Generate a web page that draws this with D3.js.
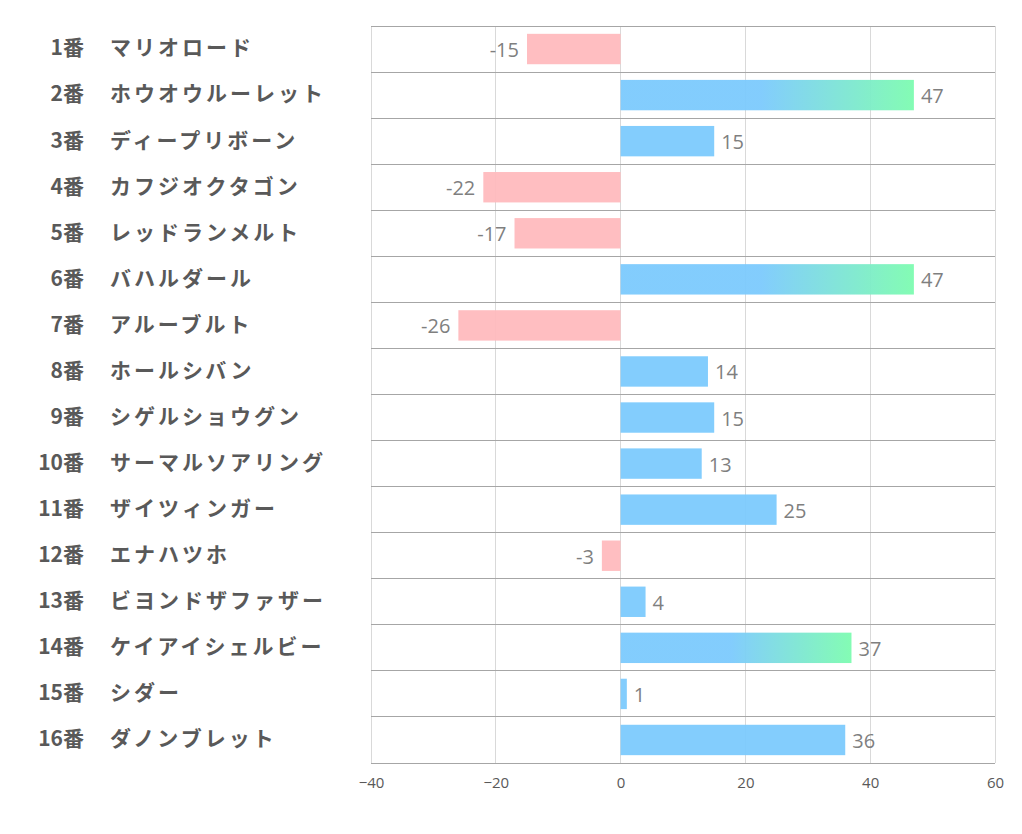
<!DOCTYPE html>
<html><head><meta charset="utf-8">
<script src="https://cdn.jsdelivr.net/npm/d3@7"></script>
<style>body{margin:0;background:#fff}</style>
</head><body><svg id="c" width="1022" height="834"></svg>
<script>
const numbers = ["1番","2番","3番","4番","5番","6番","7番","8番","9番","10番","11番","12番","13番","14番","15番","16番"];
const names = ["マリオロード","ホウオウルーレット","ディープリボーン","カフジオクタゴン","レッドランメルト","バハルダール","アルーブルト","ホールシバン","シゲルショウグン","サーマルソアリング","ザイツィンガー","エナハツホ","ビヨンドザファザー","ケイアイシェルビー","シダー","ダノンブレット"];
const values = [-15,47,15,-22,-17,47,-26,14,15,13,25,-3,4,37,1,36];
const highlighted = [false,true,false,false,false,true,false,false,false,false,false,false,false,true,false,false];
const xTicks = [-40,-20,0,20,40,60];

const svg = d3.select("#c");
const L = 371, R = 995, T = 26, B = 763;
const x = d3.scaleLinear().domain([-40,60]).range([L,R]);
const y = d3.scaleBand().domain(d3.range(values.length)).range([T,B]).paddingInner(0).paddingOuter(0);
const bh = y.bandwidth()*0.66;

const defs = svg.append("defs");
const g = defs.append("linearGradient").attr("id","grad").attr("x1","0").attr("x2","1").attr("y1","0").attr("y2","0");
g.append("stop").attr("offset","0.48").attr("stop-color","#7ccafd");
g.append("stop").attr("offset","1").attr("stop-color","#7dfcb0");

// vertical gridlines
svg.append("g").selectAll("line").data(xTicks).join("line")
  .attr("x1",d=>x(d)).attr("x2",d=>x(d)).attr("y1",T).attr("y2",B)
  .attr("stroke","#d9d9d9").attr("stroke-width",1).attr("shape-rendering","crispEdges");
// horizontal row lines
svg.append("g").selectAll("line").data(d3.range(values.length+1)).join("line")
  .attr("x1",L).attr("x2",R).attr("y1",i=>T+i*y.bandwidth()).attr("y2",i=>T+i*y.bandwidth())
  .attr("stroke","#a6a6a6").attr("stroke-width",1).attr("shape-rendering","crispEdges");

// bars
svg.append("g").selectAll("rect").data(values).join("rect")
  .attr("x",d=>x(Math.min(0,d))).attr("width",d=>Math.abs(x(d)-x(0)))
  .attr("y",(d,i)=>y(i)+(y.bandwidth()-bh)/2).attr("height",bh)
  .attr("fill",(d,i)=> d<0 ? "#ffbbbe" : (highlighted[i] ? "url(#grad)" : "#7ccafd"))
  .attr("opacity",0.95);

// value labels
svg.append("g").selectAll("text").data(values).join("text")
  .attr("x",d=> d<0 ? x(d)-8 : x(d)+7)
  .attr("y",(d,i)=>y(i)+y.bandwidth()/2+1)
  .attr("dy","0.35em")
  .attr("text-anchor",d=>d<0?"end":"start")
  .attr("font-family","'Open Sans','Noto Sans',sans-serif").attr("font-size",20)
  .attr("fill","#7f7f7f").text(d=>d);

// category labels
const lab = svg.append("g");
lab.selectAll("text.n").data(numbers).join("text").attr("class","n")
  .attr("x",84).attr("y",(d,i)=>y(i)+y.bandwidth()/2-1).attr("dy","0.35em")
  .attr("text-anchor","end").attr("font-family","'Noto Sans CJK JP',sans-serif")
  .attr("font-weight","bold").attr("font-size",21).attr("fill","#595959").text(d=>d);
lab.selectAll("text.m").data(names).join("text").attr("class","m")
  .attr("x",110).attr("y",(d,i)=>y(i)+y.bandwidth()/2-1).attr("dy","0.35em")
  .attr("text-anchor","start").attr("font-family","'Noto Sans CJK JP',sans-serif")
  .attr("font-weight","bold").attr("font-size",21).attr("letter-spacing","3px").attr("fill","#595959").text(d=>d);

// x axis
const ax = svg.append("g").attr("transform",`translate(0,${B})`)
  .call(d3.axisBottom(x).tickValues(xTicks).tickSize(0).tickPadding(14));
ax.select(".domain").remove();
ax.selectAll("text").attr("font-family","'Open Sans','Noto Sans',sans-serif").attr("font-size",15).attr("fill","#595959");
</script></body></html>
